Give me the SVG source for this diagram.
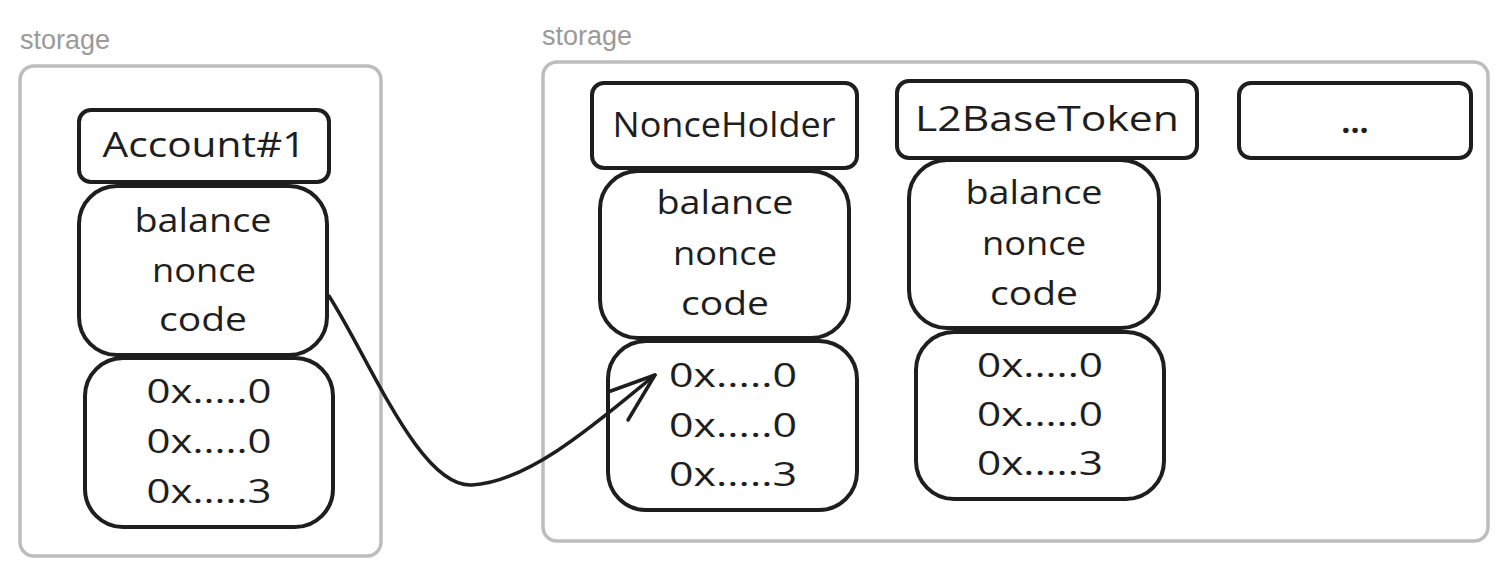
<svg xmlns="http://www.w3.org/2000/svg" width="1508" height="578" viewBox="0 0 1508 578">
<style>
.cont{fill:#fff;stroke:#bdbdbd;stroke-width:3.5}
.lbl{font-family:"Liberation Sans",Arial,sans-serif;font-size:27px;fill:#9a9a9a}
.box{fill:#fff;stroke:#1e1e1e;stroke-width:4}
.t{font-family:"Open Sans","Liberation Sans",sans-serif;font-size:32px;fill:#1e1e1e;text-anchor:middle}
.h{font-family:"Open Sans","Liberation Sans",sans-serif;font-size:34px;fill:#1e1e1e;text-anchor:middle}
.arr{fill:none;stroke:#1e1e1e;stroke-width:3.5;stroke-linecap:round;stroke-linejoin:round}
</style>
<rect width="1508" height="578" fill="#fff"/>
<g id="storage-left">
<text class="lbl" x="20" y="49">storage</text>
<rect class="cont" x="20" y="66" width="361" height="490" rx="14"/>
</g>
<g id="storage-right">
<text class="lbl" x="542" y="45">storage</text>
<rect class="cont" x="543" y="62" width="945" height="479" rx="14"/>
</g>
<g id="account1">
<rect class="box" x="79" y="110" width="250" height="72" rx="12"/>
<text class="h" x="204" y="157" textLength="203" lengthAdjust="spacingAndGlyphs">Account#1</text>
</g>
<g id="account1-fields">
<rect class="box" x="79" y="186" width="248" height="169" rx="38"/>
<text class="t" x="203" y="232" textLength="137" lengthAdjust="spacingAndGlyphs">balance</text>
<text class="t" x="204" y="282" textLength="104" lengthAdjust="spacingAndGlyphs">nonce</text>
<text class="t" x="203" y="331" textLength="88" lengthAdjust="spacingAndGlyphs">code</text>
</g>
<g id="account1-slots">
<rect class="box" x="85" y="358" width="248" height="169" rx="38"/>
<text class="t" x="209" y="403" textLength="125" lengthAdjust="spacingAndGlyphs">0x.....0</text>
<text class="t" x="209" y="453" textLength="125" lengthAdjust="spacingAndGlyphs">0x.....0</text>
<text class="t" x="209" y="503" textLength="125" lengthAdjust="spacingAndGlyphs">0x.....3</text>
</g>
<g id="nonceholder">
<rect class="box" x="592" y="83" width="265" height="85" rx="12"/>
<text class="h" x="724" y="137" textLength="223" lengthAdjust="spacingAndGlyphs">NonceHolder</text>
</g>
<g id="nonceholder-fields">
<rect class="box" x="600" y="171" width="249" height="167" rx="38"/>
<text class="t" x="725" y="214" textLength="137" lengthAdjust="spacingAndGlyphs">balance</text>
<text class="t" x="725" y="265" textLength="104" lengthAdjust="spacingAndGlyphs">nonce</text>
<text class="t" x="725" y="315" textLength="88" lengthAdjust="spacingAndGlyphs">code</text>
</g>
<g id="nonceholder-slots">
<rect class="box" x="608" y="341" width="249" height="169" rx="38"/>
<text class="t" x="733" y="387" textLength="128" lengthAdjust="spacingAndGlyphs">0x.....0</text>
<text class="t" x="733" y="437" textLength="128" lengthAdjust="spacingAndGlyphs">0x.....0</text>
<text class="t" x="733" y="486" textLength="128" lengthAdjust="spacingAndGlyphs">0x.....3</text>
</g>
<g id="l2basetoken">
<rect class="box" x="897" y="81" width="300" height="77" rx="12"/>
<text class="h" x="1047" y="131" textLength="264" lengthAdjust="spacingAndGlyphs">L2BaseToken</text>
</g>
<g id="l2basetoken-fields">
<rect class="box" x="909" y="160" width="250" height="168" rx="38"/>
<text class="t" x="1034" y="204" textLength="137" lengthAdjust="spacingAndGlyphs">balance</text>
<text class="t" x="1034" y="255" textLength="104" lengthAdjust="spacingAndGlyphs">nonce</text>
<text class="t" x="1034" y="305" textLength="88" lengthAdjust="spacingAndGlyphs">code</text>
</g>
<g id="l2basetoken-slots">
<rect class="box" x="916" y="332" width="248" height="167" rx="38"/>
<text class="t" x="1040" y="377" textLength="126" lengthAdjust="spacingAndGlyphs">0x.....0</text>
<text class="t" x="1040" y="426" textLength="126" lengthAdjust="spacingAndGlyphs">0x.....0</text>
<text class="t" x="1040" y="475" textLength="126" lengthAdjust="spacingAndGlyphs">0x.....3</text>
</g>
<g id="more">
<rect class="box" x="1239" y="83" width="232" height="75" rx="12"/>
<text class="t" x="1355" y="133" font-weight="bold">...</text>
</g>
<g id="connectors">
<path class="arr" d="M329,296 C370,360 420,488 472,485 C530,482 600,420 655,375"/>
<path class="arr" d="M608,392 L655,375 L628,420"/>
</g>
</svg>
